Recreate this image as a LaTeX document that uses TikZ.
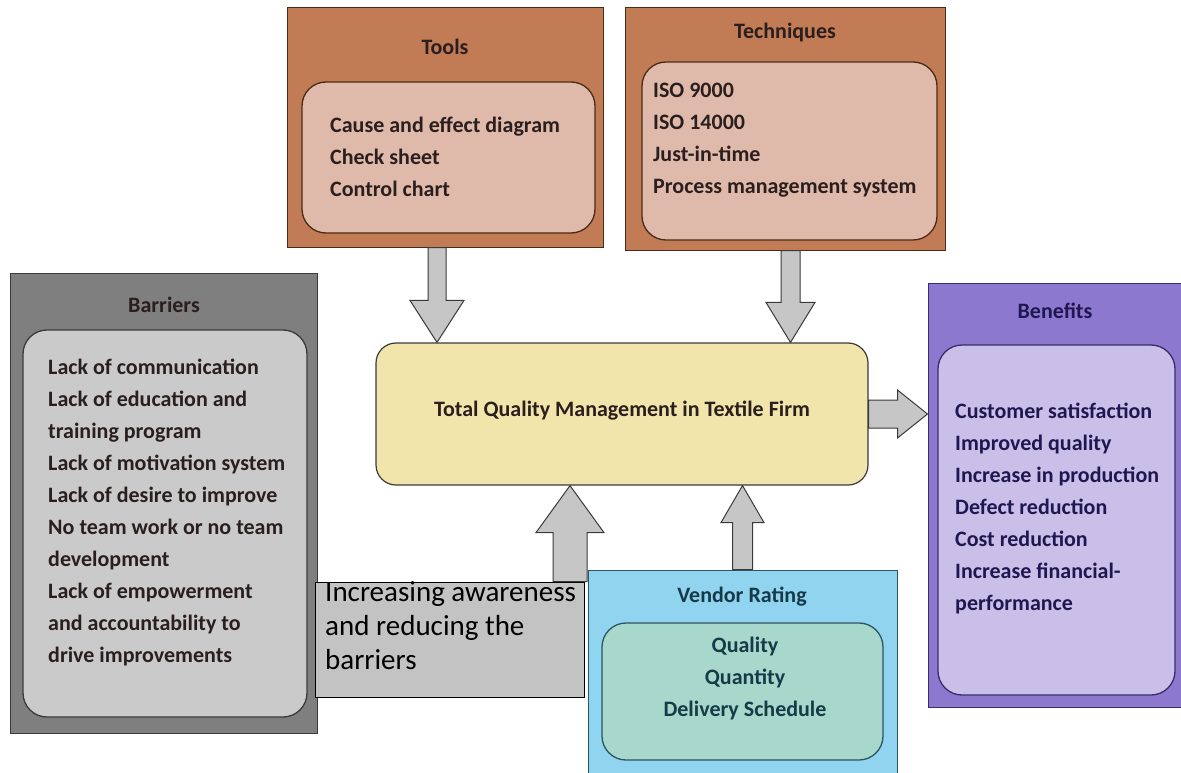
\documentclass[tikz,border=0pt]{standalone}
\usepackage{fontspec}
\setmainfont{Carlito}
\usetikzlibrary{calc}
\definecolor{toolout}{HTML}{C27C55}
\definecolor{toolin}{HTML}{DFBAAA}
\definecolor{brownline}{HTML}{4A2A1A}
\definecolor{barout}{HTML}{7F7F7F}
\definecolor{barin}{HTML}{CACACA}
\definecolor{grayline}{HTML}{3A3A3A}
\definecolor{tqmfill}{HTML}{F1E5AB}
\definecolor{benout}{HTML}{8D78CF}
\definecolor{benin}{HTML}{C9BFE9}
\definecolor{benline}{HTML}{3A2C6A}
\definecolor{bentext}{HTML}{1F1850}
\definecolor{venout}{HTML}{90D4F0}
\definecolor{venin}{HTML}{A7D8CB}
\definecolor{venline}{HTML}{2C5563}
\definecolor{ventext}{HTML}{163A48}
\definecolor{awfill}{HTML}{C3C3C3}
\definecolor{arrfill}{HTML}{C6C6C6}
\definecolor{txt}{HTML}{2B1E1E}
\newcommand\arrdown[5]{\draw[barrow] ([shift={(-#3,0)}]#1) -- ([shift={(-#3,-#5)}]#2) -- ([shift={(-#4,-#5)}]#2) -- (#2) -- ([shift={(#4,-#5)}]#2) -- ([shift={(#3,-#5)}]#2) -- ([shift={(#3,0)}]#1) -- cycle;}
\newcommand\arrup[5]{\draw[barrow] ([shift={(-#3,0)}]#1) -- ([shift={(-#3,#5)}]#2) -- ([shift={(-#4,#5)}]#2) -- (#2) -- ([shift={(#4,#5)}]#2) -- ([shift={(#3,#5)}]#2) -- ([shift={(#3,0)}]#1) -- cycle;}
\newcommand\arrright[5]{\draw[barrow] ([shift={(0,-#3)}]#1) -- ([shift={(-#5,-#3)}]#2) -- ([shift={(-#5,-#4)}]#2) -- (#2) -- ([shift={(-#5,#4)}]#2) -- ([shift={(-#5,#3)}]#2) -- ([shift={(0,#3)}]#1) -- cycle;}
\tikzset{
  outerbox/.style={draw=#1, line width=1pt, inner sep=0pt},
  innerbox/.style={draw=#1, line width=1.3pt, rounded corners=24pt, inner sep=0pt},
  title/.style={font=\bfseries\fontsize{22}{26}\selectfont, text=txt, inner sep=0pt, anchor=center},
  items/.style={font=\bfseries\fontsize{22}{32}\selectfont, text=txt, inner sep=0pt, anchor=north west, align=left},
  barrow/.style={draw=grayline, fill=arrfill, line width=1pt, line join=miter}
}
\begin{document}
\begin{tikzpicture}[x=1pt,y=-1pt]
\useasboundingbox (0,0) rectangle (1181,773);
\clip (0,0) rectangle (1181,773);
\fill[white] (0,0) rectangle (1181,773);
% Tools
\node[outerbox=brownline, fill=toolout, minimum width=316pt, minimum height=239pt] (tools) at (445,127.5) {};
\node[innerbox=brownline, fill=toolin, minimum width=293pt, minimum height=151pt] (toolsin) at (448.5,157.5) {};
\node[title] (toolst) at (445,47) {Tools};
\node[items] (toolsl) at (330,117) {Cause and effect diagram\\Check sheet\\Control chart};
% Techniques
\node[outerbox=brownline, fill=toolout, minimum width=320pt, minimum height=242pt] (tech) at (785,129) {};
\node[innerbox=brownline, fill=toolin, minimum width=295pt, minimum height=178pt] (techin) at (789.5,151) {};
\node[title] (techt) at (785,33) {Techniques};
\node[items] (techl) at (653,83) {ISO 9000\\ISO 14000\\Just-in-time\\Process management system};
% Barriers
\node[outerbox=grayline, fill=barout, minimum width=307pt, minimum height=460pt] (bar) at (163.5,503) {};
\node[innerbox=grayline, fill=barin, minimum width=284pt, minimum height=387pt] (barin) at (165,523.5) {};
\node[title] (bart) at (164,305) {Barriers};
\node[items] (barl) at (48,359) {Lack of communication\\Lack of education and\\training program\\Lack of motivation system\\Lack of desire to improve\\No team work or no team\\development\\Lack of empowerment\\and accountability to\\drive improvements};
% TQM
\node[draw=grayline, line width=1.2pt, fill=tqmfill, rounded corners=20pt, minimum width=492pt, minimum height=142pt, inner sep=0pt] (tqm) at (622,414) {};
\node[title] (tqmt) at (622,411) {Total Quality Management in Textile Firm};
% Benefits
\node[outerbox=benline, fill=benout, minimum width=253pt, minimum height=424pt] (ben) at (1054.5,495) {};
\node[innerbox=benline, fill=benin, minimum width=237pt, minimum height=350pt] (benin) at (1056.5,520) {};
\node[title, text=bentext] (bent) at (1055,311) {Benefits};
\node[items, text=bentext] (benl) at (955,403) {Customer satisfaction\\Improved quality\\Increase in production\\Defect reduction\\Cost reduction\\Increase financial-\\performance};
% Vendor rating
\node[outerbox=venline, fill=venout, minimum width=309pt, minimum height=215pt] (ven) at (742.5,677.5) {};
\node[innerbox=venline, fill=venin, minimum width=281pt, minimum height=137pt] (venin) at (742.5,691.5) {};
\node[title, text=ventext] (vent) at (742,597) {Vendor Rating};
\node[items, text=ventext, anchor=north, align=center] (venl) at (745,637) {Quality\\Quantity\\Delivery Schedule};
% Awareness box
\node[draw=black, line width=1pt, fill=awfill, minimum width=269pt, minimum height=115pt, inner sep=0pt] (aware) at (449.5,639.5) {};
\node[font=\fontsize{29}{34}\selectfont, text=black, inner sep=0pt, anchor=north west, align=left] (awaret) at (325,581) {Increasing awareness\\and reducing the\\barriers};
% Arrows
\coordinate (ta) at ([xshift=-8pt]tools.south);
\coordinate (tae) at (ta |- tqm.north);
\arrdown{ta}{tae}{9}{27}{42}
\coordinate (tb) at ([xshift=5.5pt]tech.south);
\coordinate (tbe) at (tb |- tqm.north);
\arrdown{tb}{tbe}{9.5}{24.5}{40}
\coordinate (aa) at ([xshift=120.5pt]aware.north);
\coordinate (aae) at (aa |- tqm.south);
\arrup{aa}{aae}{17}{34}{47}
\coordinate (va) at (ven.north);
\coordinate (vae) at (va |- tqm.south);
\arrup{va}{vae}{10}{21.5}{37}
\coordinate (ra) at (tqm.east);
\coordinate (rae) at (ben.west |- ra);
\arrright{ra}{rae}{14}{24}{30}
\end{tikzpicture}
\end{document}
